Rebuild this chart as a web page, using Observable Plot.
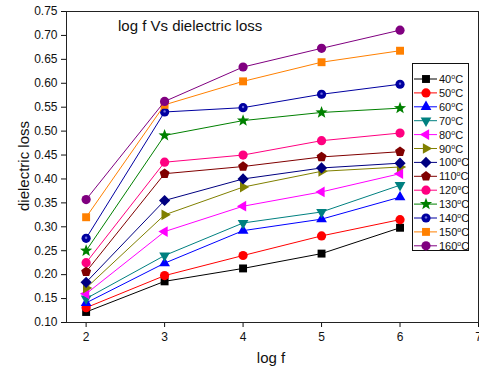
<!DOCTYPE html>
<html>
<head>
<meta charset="utf-8">
<script src="https://cdn.jsdelivr.net/npm/d3@7"></script>
<script src="https://cdn.jsdelivr.net/npm/@observablehq/plot@0.6"></script>
<style>
  html, body { margin: 0; padding: 0; background: #fff; }
  svg { font-family: "Liberation Sans", Arial, sans-serif; }
</style>
</head>
<body>
<div id="chart"></div>
<script>
// ---- data ----
const logF = [2, 3, 4, 5, 6];
const temps = ["40", "50", "60", "70", "80", "90", "100", "110", "120", "130", "140", "150", "160"];
const loss40  = [0.122, 0.186, 0.213, 0.244, 0.298];
const loss50  = [0.131, 0.198, 0.240, 0.281, 0.315];
const loss60  = [0.141, 0.224, 0.292, 0.316, 0.362];
const loss70  = [0.150, 0.240, 0.308, 0.331, 0.387];
const loss80  = [0.160, 0.290, 0.343, 0.373, 0.411];
const loss90  = [0.172, 0.325, 0.383, 0.416, 0.425];
const loss100 = [0.184, 0.355, 0.400, 0.423, 0.433];
const loss110 = [0.206, 0.411, 0.426, 0.446, 0.457];
const loss120 = [0.225, 0.435, 0.450, 0.480, 0.496];
const loss130 = [0.250, 0.491, 0.522, 0.539, 0.548];
const loss140 = [0.276, 0.540, 0.549, 0.577, 0.598];
const loss150 = [0.320, 0.555, 0.604, 0.644, 0.668];
const loss160 = [0.357, 0.562, 0.634, 0.673, 0.711];
const lossSeries = [loss40, loss50, loss60, loss70, loss80, loss90, loss100, loss110, loss120, loss130, loss140, loss150, loss160];
const colors = ["#000000", "#ff0000", "#0000ff", "#008080", "#ff00ff", "#808000", "#000080", "#800000", "#ff0080", "#008000", "#0000a0", "#ff8000", "#800080"];
const xTicks = [2, 3, 4, 5, 6, 7];
const yTicks = [0.10, 0.15, 0.20, 0.25, 0.30, 0.35, 0.40, 0.45, 0.50, 0.55, 0.60, 0.65, 0.70, 0.75];

// ---- symbols ----
function poly(n, rot, R) {
  return {draw(ctx) {
    for (let i = 0; i < n; i++) {
      const a = rot + i * 2 * Math.PI / n;
      const px = R * Math.cos(a), py = R * Math.sin(a);
      if (i === 0) ctx.moveTo(px, py); else ctx.lineTo(px, py);
    }
    ctx.closePath();
  }};
}
function circ(R) {
  return {draw(ctx) { ctx.moveTo(R, 0); ctx.arc(0, 0, R, 0, 2 * Math.PI); }};
}
function star(R) {
  return {draw(ctx) {
    const r2 = R * 0.42;
    for (let i = 0; i < 10; i++) {
      const a = -Math.PI / 2 + i * Math.PI / 5;
      const r = i % 2 ? r2 : R;
      const px = r * Math.cos(a), py = r * Math.sin(a);
      if (i === 0) ctx.moveTo(px, py); else ctx.lineTo(px, py);
    }
    ctx.closePath();
  }};
}
const P = Math.PI;
const symbols = [
  poly(4, P / 4, 5.6),      // square
  circ(4.6),                // circle
  poly(3, -P / 2, 6.2),     // up triangle
  poly(3, P / 2, 6.2),      // down triangle
  poly(3, P, 6.2),          // left triangle
  poly(3, 0, 6.2),          // right triangle
  poly(4, 0, 5.6),          // diamond
  poly(5, -P / 2, 5.2),     // pentagon
  circ(4.6),                // circle
  star(6.4),                // star
  circ(4.6),                // circle (half-filled look)
  poly(4, P / 4, 5.6),      // square
  circ(4.6)                 // circle
];

// ---- rows ----
const rows = [];
temps.forEach((t, i) => lossSeries[i].forEach((v, j) => rows.push({temp: t, idx: i, logF: logF[j], loss: v})));

const marks = [Plot.frame({stroke: "#222", strokeWidth: 1})];
temps.forEach((t, i) => {
  const data = rows.filter(d => d.idx === i);
  marks.push(Plot.line(data, {x: "logF", y: "loss", stroke: colors[i], strokeWidth: 1}));
  marks.push(Plot.dot(data, {x: "logF", y: "loss", symbol: symbols[i], r: 4, fill: colors[i], stroke: "none"}));
  if (i === 10) {
    marks.push(Plot.dot(data, {x: "logF", y: "loss", r: 1.2, fill: "#7070e0", stroke: "none", dy: -0.6}));
  }
});

const svg = Plot.plot({
  width: 479,
  height: 373,
  marginLeft: 66,
  marginRight: 1,
  marginTop: 11,
  marginBottom: 51,
  style: {fontFamily: "Liberation Sans, Arial, sans-serif", fontSize: "12px", color: "#111", background: "#fff"},
  x: {domain: [1.75, 7], ticks: xTicks, tickFormat: d3.format("d"), tickSize: 5, tickPadding: 5, label: null},
  y: {domain: [0.10, 0.75], ticks: yTicks, tickFormat: d3.format(".2f"), tickSize: 5, tickPadding: 4, label: null},
  marks: marks
});

const s = d3.select(svg);
// title
s.append("text").attr("x", 118).attr("y", 31).attr("text-anchor", "start").attr("font-size", 15).attr("fill", "#111").text("log f Vs dielectric loss");
// axis labels
s.append("text").attr("x", 271).attr("y", 363).attr("text-anchor", "middle").attr("font-size", 15).attr("fill", "#111").text("log f");
s.append("text").attr("transform", "translate(29,166) rotate(-90)").attr("text-anchor", "middle").attr("font-size", 15).attr("fill", "#111").text("dielectric loss");

// legend
const lg = s.append("g");
lg.append("rect").attr("x", 412.5).attr("y", 63.5).attr("width", 56).attr("height", 187).attr("fill", "#fff").attr("stroke", "#111").attr("stroke-width", 1);
temps.forEach((t, i) => {
  const y = 79 + i * 13.9;
  const g = lg.append("g");
  g.append("line").attr("x1", 414).attr("x2", 437).attr("y1", y).attr("y2", y).attr("stroke", colors[i]).attr("stroke-width", 1);
  const p = d3.path(); symbols[i].draw(p);
  g.append("path").attr("d", p.toString()).attr("transform", `translate(426,${y})`).attr("fill", colors[i]);
  if (i === 10) g.append("circle").attr("cx", 426).attr("cy", y - 0.6).attr("r", 1.2).attr("fill", "#7070e0");
  const tx = g.append("text").attr("x", 439).attr("y", y + 4).attr("text-anchor", "start").attr("font-size", 11).attr("fill", "#111");
  tx.append("tspan").text(t);
  tx.append("tspan").attr("dy", -4).attr("font-size", 7).text("o");
  tx.append("tspan").attr("dy", 4).text("C");
});

document.getElementById("chart").appendChild(svg);
</script>
</body>
</html>
